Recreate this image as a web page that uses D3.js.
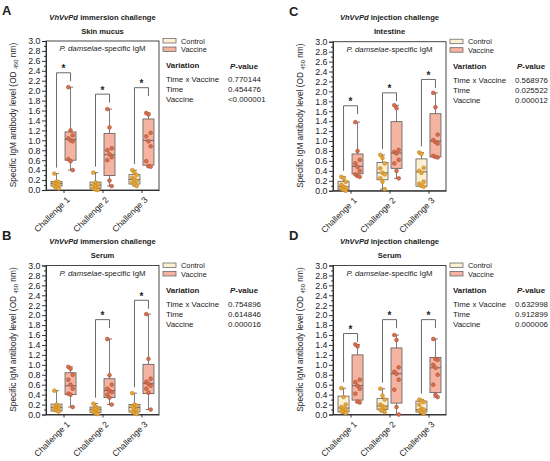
<!DOCTYPE html>
<html>
<head>
<meta charset="utf-8">
<script src="https://cdn.jsdelivr.net/npm/d3@7"></script>
<style>
  body { margin: 0; background: #fff; }
  text { font-family: "Liberation Sans", Arial, sans-serif; fill: #222; }
</style>
</head>
<body>
<div id="chart"></div>
<script>
// categories and axis ticks
const groups = ["Challenge 1", "Challenge 2", "Challenge 3"];
const yTicks = [0, 0.2, 0.4, 0.6, 0.8, 1.0, 1.2, 1.4, 1.6, 1.8, 2.0, 2.2, 2.4, 2.6, 2.8, 3.0];
const yMinor = [0.1, 0.3, 0.5, 0.7, 0.9, 1.1, 1.3, 1.5, 1.7, 1.9, 2.1, 2.3, 2.5, 2.7, 2.9];
const legendLabels = ["Control", "Vaccine"];

// panel A - immersion, skin mucus
const aCtrl = [
  [0.33, 0.17, 0.16, 0.14, 0.13, 0.11, 0.08, 0.05, 0.03],
  [0.35, 0.15, 0.12, 0.10, 0.08, 0.05, 0.03, 0.01, 0.00],
  [0.40, 0.35, 0.30, 0.25, 0.22, 0.18, 0.15, 0.12, 0.08]
];
const aVacc = [
  [2.07, 1.20, 1.10, 1.04, 1.00, 0.98, 0.62, 0.58, 0.40],
  [1.63, 1.26, 0.84, 0.80, 0.72, 0.66, 0.60, 0.19, 0.08],
  [1.55, 1.52, 1.15, 1.08, 0.98, 0.88, 0.58, 0.48, 0.47]
];
// box = [min, q1, median, q3, max]
const aCtrlBox = [[0.03, 0.08, 0.13, 0.17, 0.33], [0.00, 0.03, 0.10, 0.16, 0.35], [0.08, 0.12, 0.21, 0.31, 0.40]];
const aVaccBox = [[0.40, 0.60, 1.02, 1.17, 2.07], [0.08, 0.29, 0.71, 1.14, 1.63], [0.47, 0.50, 1.00, 1.43, 1.55]];
const aBrackets = [2.36, 1.93, 2.06];
const aPvals = ["0.770144", "0.454476", "<0.000001"];

// panel B - immersion, serum
const bCtrl = [
  [0.48, 0.20, 0.17, 0.15, 0.13, 0.12, 0.10, 0.08, 0.06],
  [0.22, 0.16, 0.13, 0.11, 0.10, 0.08, 0.05, 0.03, 0.01],
  [0.43, 0.20, 0.18, 0.16, 0.12, 0.10, 0.06, 0.03, 0.01]
];
const bVacc = [
  [0.96, 0.92, 0.80, 0.70, 0.60, 0.52, 0.42, 0.40, 0.15],
  [1.52, 0.79, 0.60, 0.52, 0.48, 0.45, 0.40, 0.34, 0.20],
  [2.02, 1.12, 0.72, 0.66, 0.62, 0.58, 0.52, 0.44, 0.10]
];
const bCtrlBox = [[0.06, 0.07, 0.14, 0.21, 0.48], [0.01, 0.04, 0.10, 0.15, 0.22], [0.01, 0.05, 0.14, 0.20, 0.43]];
const bVaccBox = [[0.15, 0.40, 0.58, 0.84, 0.96], [0.20, 0.34, 0.48, 0.72, 1.52], [0.10, 0.42, 0.62, 1.01, 2.02]];
const bBrackets = [null, 1.91, 2.30];
const bPvals = ["0.754896", "0.614846", "0.000016"];

// panel C - injection, intestine
const cCtrl = [
  [0.28, 0.25, 0.18, 0.12, 0.08, 0.06, 0.04, 0.02, 0.00],
  [0.72, 0.66, 0.55, 0.45, 0.36, 0.33, 0.25, 0.18, 0.03],
  [0.77, 0.74, 0.46, 0.40, 0.36, 0.18, 0.14, 0.10, 0.08]
];
const cVacc = [
  [1.38, 0.80, 0.62, 0.55, 0.48, 0.40, 0.33, 0.30, 0.28],
  [1.72, 1.66, 0.82, 0.78, 0.75, 0.62, 0.55, 0.40, 0.25],
  [1.97, 1.68, 1.13, 1.02, 0.98, 0.95, 0.70, 0.68, 0.67]
];
const cCtrlBox = [[0.00, 0.02, 0.08, 0.19, 0.28], [0.03, 0.22, 0.36, 0.57, 0.72], [0.08, 0.09, 0.38, 0.64, 0.77]];
const cVaccBox = [[0.28, 0.34, 0.49, 0.74, 1.38], [0.25, 0.45, 0.76, 1.39, 1.72], [0.67, 0.68, 1.00, 1.55, 1.97]];
const cBrackets = [1.71, 1.97, 2.24];
const cPvals = ["0.568976", "0.025522", "0.000012"];

// panel D - injection, serum
const dCtrl = [
  [0.53, 0.35, 0.20, 0.15, 0.13, 0.10, 0.07, 0.05, 0.03],
  [0.52, 0.38, 0.30, 0.20, 0.17, 0.14, 0.10, 0.08, 0.05],
  [0.30, 0.28, 0.25, 0.20, 0.12, 0.10, 0.08, 0.05, 0.02]
];
const dVacc = [
  [1.41, 1.37, 0.70, 0.65, 0.58, 0.52, 0.42, 0.26, 0.24],
  [1.60, 1.50, 0.95, 0.86, 0.82, 0.70, 0.50, 0.15, 0.00],
  [1.52, 1.12, 1.10, 1.00, 0.94, 0.80, 0.60, 0.40, 0.35]
];
const dCtrlBox = [[0.03, 0.05, 0.13, 0.37, 0.53], [0.05, 0.10, 0.17, 0.32, 0.52], [0.02, 0.05, 0.10, 0.27, 0.30]];
const dVaccBox = [[0.24, 0.29, 0.58, 1.20, 1.41], [0.00, 0.23, 0.82, 1.34, 1.60], [0.35, 0.44, 0.94, 1.15, 1.52]];
const dBrackets = [1.63, 1.91, 1.91];
const dPvals = ["0.632998", "0.912899", "0.000006"];

const pLabels = ["Time x Vaccine", "Time", "Vaccine"];

const svg = d3.select("#chart").append("svg")
  .attr("width", 550).attr("height", 461);

const colors = {
  ctrlFill: "#fcf0d2", ctrlDot: "#e6a73c", ctrlDotStroke: "#c4851c",
  vaccFill: "#f4b4a1", vaccDot: "#d8704f", vaccDotStroke: "#b04f33",
  line: "#5a5a5a"
};

function drawPanel(p) {
  const g = svg.append("g").attr("transform", `translate(${p.ox},${p.oy})`);
  const L = 46, R = 159, T = 41, B = 190;

  const x = d3.scalePoint().domain(groups).range([L, R]).padding(0.45);
  const y = d3.scaleLinear().domain([0, 3]).range([B, T]);
  const off = 7, bw = 11;

  // panel letter + titles
  g.append("text").attr("x", 2).attr("y", 15).attr("font-size", 13).attr("font-weight", "bold").text(p.letter);
  const t1 = g.append("text").attr("x", (L + R) / 2).attr("y", 19.5).attr("text-anchor", "middle")
    .attr("font-size", 7.6).attr("font-weight", "bold");
  t1.append("tspan").attr("font-style", "italic").text("VhVvPd");
  t1.append("tspan").text(" " + p.route + " challenge");
  g.append("text").attr("x", (L + R) / 2).attr("y", 33.5).attr("text-anchor", "middle")
    .attr("font-size", 7.6).attr("font-weight", "bold").text(p.tissue);

  // frame
  g.append("rect").attr("x", L).attr("y", T).attr("width", R - L).attr("height", B - T)
    .attr("fill", "none").attr("stroke", "#333").attr("stroke-width", 0.9);

  const inner = g.append("text").attr("x", (L + R) / 2).attr("y", 51).attr("text-anchor", "middle").attr("font-size", 7.8);
  inner.append("tspan").attr("font-style", "italic").text("P. damselae");
  inner.append("tspan").text("-specific IgM");

  // axes
  const ya = g.append("g").attr("transform", `translate(${L},0)`)
    .call(d3.axisLeft(y).tickValues(yTicks).tickFormat(d3.format(".1f")).tickSize(4).tickPadding(1.5));
  ya.selectAll("text").attr("font-size", 8.8);
  g.append("g").attr("transform", `translate(${L},0)`)
    .call(d3.axisLeft(y).tickValues(yMinor).tickFormat("").tickSize(2))
    .select(".domain").remove();
  const xa = g.append("g").attr("transform", `translate(0,${B})`)
    .call(d3.axisBottom(x).tickSize(3).tickSizeOuter(0));
  xa.selectAll("text").attr("font-size", 8.6)
    .attr("text-anchor", "end").attr("dy", 0)
    .attr("transform", "translate(2,6) rotate(-45)");
  g.selectAll(".domain, .tick line").attr("stroke", "#222").attr("stroke-width", 0.9);

  // y label
  const yl = g.append("text").attr("transform", `translate(16,115) rotate(-90)`)
    .attr("text-anchor", "middle").attr("font-size", 8.3);
  yl.append("tspan").text("Specific IgM antibody level (OD ");
  yl.append("tspan").attr("font-size", 5.8).attr("dy", 2).text("450");
  yl.append("tspan").attr("dy", -2).text(" nm)");

  // boxes
  function boxes(boxData, pts, dx, fill, dot, dotStroke) {
    groups.forEach((grp, i) => {
      const cx = x(grp) + dx;
      const [mn, q1, md, q3, mx] = boxData[i];
      const bg = g.append("g");
      bg.append("line").attr("x1", cx).attr("x2", cx).attr("y1", y(mx)).attr("y2", y(q3))
        .attr("stroke", colors.line).attr("stroke-width", 0.8);
      bg.append("line").attr("x1", cx).attr("x2", cx).attr("y1", y(q1)).attr("y2", y(mn))
        .attr("stroke", colors.line).attr("stroke-width", 0.8);
      [mn, mx].forEach(v => bg.append("line").attr("x1", cx - 2.5).attr("x2", cx + 2.5)
        .attr("y1", y(v)).attr("y2", y(v)).attr("stroke", colors.line).attr("stroke-width", 0.8));
      bg.append("rect").attr("x", cx - bw / 2).attr("y", y(q3)).attr("width", bw)
        .attr("height", y(q1) - y(q3)).attr("fill", fill).attr("stroke", colors.line).attr("stroke-width", 0.8);
      bg.append("line").attr("x1", cx - bw / 2).attr("x2", cx + bw / 2).attr("y1", y(md)).attr("y2", y(md))
        .attr("stroke", colors.line).attr("stroke-width", 0.9);
      bg.selectAll("circle").data(pts[i]).enter().append("circle")
        .attr("cx", (d, j) => cx + ((j % 3) - 1) * 2.2)
        .attr("cy", d => y(d)).attr("r", 1.9)
        .attr("fill", dot).attr("stroke", dotStroke).attr("stroke-width", 0.6);
    });
  }
  boxes(p.ctrlBox, p.ctrl, -off, colors.ctrlFill, colors.ctrlDot, colors.ctrlDotStroke);
  boxes(p.vaccBox, p.vacc, off, colors.vaccFill, colors.vaccDot, colors.vaccDotStroke);

  // significance brackets
  groups.forEach((grp, i) => {
    const b = p.brackets[i];
    if (b == null) return;
    const x1 = x(grp) - off, x2 = x(grp) + off;
    const leftEnd = p.ctrlBox[i][4] + 0.12;
    const rightEnd = b - 0.17;
    g.append("path")
      .attr("d", `M${x1},${y(leftEnd)}V${y(b)}H${x2}V${y(rightEnd)}`)
      .attr("fill", "none").attr("stroke", "#444").attr("stroke-width", 0.8);
    g.append("text").attr("x", x(grp)).attr("y", y(b) - 0.5).attr("text-anchor", "middle")
      .attr("font-size", 10).attr("font-weight", "bold").text("*");
  });

  // legend
  legendLabels.forEach((lab, i) => {
    const ly = 38.5 + i * 8.5;
    g.append("rect").attr("x", 163).attr("y", ly).attr("width", 13).attr("height", 4.5)
      .attr("fill", i === 0 ? colors.ctrlFill : colors.vaccFill)
      .attr("stroke", colors.line).attr("stroke-width", 0.7);
    g.append("text").attr("x", 181).attr("y", ly + 5).attr("font-size", 7.4).text(lab);
  });

  // p-value table
  g.append("text").attr("x", 166).attr("y", 68).attr("font-size", 7.9).attr("font-weight", "bold").text("Variation");
  const ph = g.append("text").attr("x", 230).attr("y", 68.5).attr("font-size", 7.9).attr("font-weight", "bold");
  ph.append("tspan").attr("font-style", "italic").text("P");
  ph.append("tspan").text("-value");
  pLabels.forEach((lab, i) => {
    g.append("text").attr("x", 166).attr("y", 82 + i * 10.2).attr("font-size", 7.9).text(lab);
    g.append("text").attr("x", 228).attr("y", 82 + i * 10.2).attr("font-size", 7.9).text(p.pvals[i]);
  });
}

drawPanel({ letter: "A", ox: 0, oy: 0, route: "immersion", tissue: "Skin mucus",
  ctrl: aCtrl, vacc: aVacc, ctrlBox: aCtrlBox, vaccBox: aVaccBox, brackets: aBrackets, pvals: aPvals });
drawPanel({ letter: "B", ox: 0, oy: 224.5, route: "immersion", tissue: "Serum",
  ctrl: bCtrl, vacc: bVacc, ctrlBox: bCtrlBox, vaccBox: bVaccBox, brackets: bBrackets, pvals: bPvals });
drawPanel({ letter: "C", ox: 287, oy: 0.7, route: "injection", tissue: "Intestine",
  ctrl: cCtrl, vacc: cVacc, ctrlBox: cCtrlBox, vaccBox: cVaccBox, brackets: cBrackets, pvals: cPvals });
drawPanel({ letter: "D", ox: 287, oy: 224.5, route: "injection", tissue: "Serum",
  ctrl: dCtrl, vacc: dVacc, ctrlBox: dCtrlBox, vaccBox: dVaccBox, brackets: dBrackets, pvals: dPvals });
</script>
</body>
</html>
